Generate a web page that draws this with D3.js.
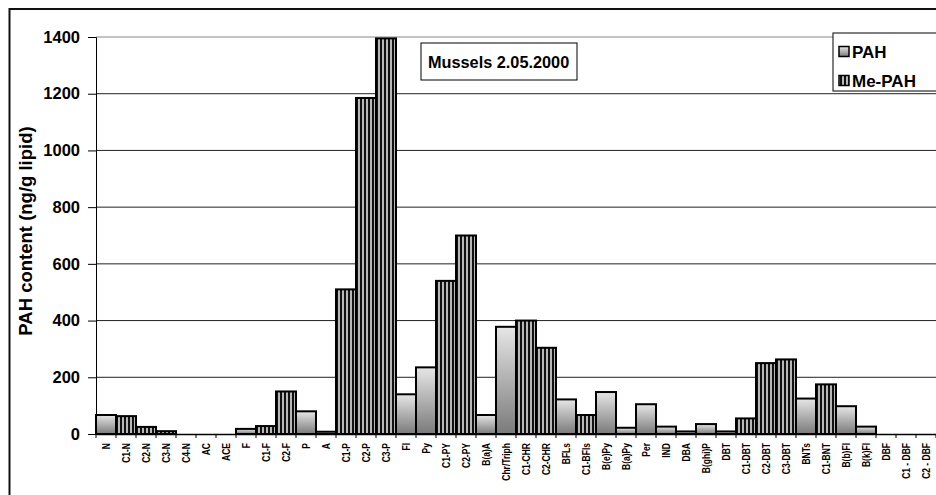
<!DOCTYPE html>
<html><head><meta charset="utf-8">
<script src="https://cdn.jsdelivr.net/npm/d3@7"></script>
<style>body{margin:0;background:#fff}svg{display:block;font-family:Arial,"Liberation Sans",sans-serif}</style>
</head><body><svg id="c" width="936" height="495"></svg>
<script>
const categories = ["N","C1-N","C2-N","C3-N","C4-N","AC","ACE","F","C1-F","C2-F","P","A","C1-P","C2-P","C3-P","Fl","Py","C1-PY","C2-PY","B(a)A","Chr/Triph","C1-CHR","C2-CHR","BFLs","C1-BFls","B(e)Py","B(a)Py","Per","IND","DBA","B(ghi)P","DBT","C1-DBT","C2-DBT","C3-DBT","BNTs","C1-BNT","B(b)Fl","B(k)Fl","DBF","C1 - DBF","C2 - DBF"];
const values = [67,63,25,10,0,0,0,18,28,150,80,8,510,1185,1395,140,235,540,700,67,378,400,304,122,67,148,22,105,26,9,35,9,55,250,263,125,175,98,26,0,0,0];
const series = ["PAH","Me-PAH","Me-PAH","Me-PAH","Me-PAH","PAH","PAH","PAH","Me-PAH","Me-PAH","PAH","PAH","Me-PAH","Me-PAH","Me-PAH","PAH","PAH","Me-PAH","Me-PAH","PAH","PAH","Me-PAH","Me-PAH","PAH","Me-PAH","PAH","PAH","PAH","PAH","PAH","PAH","PAH","Me-PAH","Me-PAH","Me-PAH","PAH","Me-PAH","PAH","PAH","PAH","Me-PAH","Me-PAH"];
const seriesNames = ["PAH","Me-PAH"];
const yTicks = [0,200,400,600,800,1000,1200,1400];
const title = "Mussels 2.05.2000";
const yTitle = "PAH content (ng/g lipid)";

const FONT = "Arial, Liberation Sans, sans-serif";
const svg = d3.select("#c");
const defs = svg.append("defs");
const g1 = defs.append("linearGradient").attr("id","gPAH").attr("x1",0).attr("y1",0).attr("x2",0).attr("y2",1);
g1.append("stop").attr("offset","0%").attr("stop-color","#e6e6e6");
g1.append("stop").attr("offset","100%").attr("stop-color","#7a7a7a");
const pat = defs.append("pattern").attr("id","pMe").attr("patternUnits","userSpaceOnUse").attr("width",4).attr("height",4);
pat.append("rect").attr("width",4).attr("height",4).attr("fill","#b8b8b8");
pat.append("rect").attr("width",2).attr("height",4).attr("fill","#111");
const fillOf = s => s === "PAH" ? "url(#gPAH)" : "url(#pMe)";

const L = 96, R = 936, T = 37, B = 434;
const x = d3.scaleBand().domain(categories).range([L, R]).padding(0);
const y = d3.scaleLinear().domain([0,1400]).range([B, T]);

// outer border
svg.append("rect").attr("x",9.5).attr("y",9).attr("width",960).attr("height",520).attr("fill","#fff").attr("stroke","#111").attr("stroke-width",2);

// gridlines
svg.append("g").selectAll("line").data(yTicks.filter(d=>d>0)).join("line")
  .attr("x1",L).attr("x2",R).attr("y1",d=>y(d)).attr("y2",d=>y(d))
  .attr("stroke",d=>d===1400?"#888":"#222").attr("stroke-width",1);

// y axis
const ya = svg.append("g").attr("transform",`translate(${L},0)`)
  .call(d3.axisLeft(y).tickValues(yTicks).tickSize(8).tickPadding(8).tickFormat(d3.format("d")));
ya.select(".domain").attr("stroke","#000");
ya.selectAll(".tick line").attr("stroke","#000");
ya.selectAll("text").attr("font-size",16.5).attr("font-weight","bold").attr("fill","#000").attr("font-family",FONT);

// bars
svg.append("g").selectAll("rect").data(categories).join("rect")
  .attr("x",d=>x(d)).attr("width",x.bandwidth())
  .attr("y",(d,i)=>y(values[i])).attr("height",(d,i)=>B - y(values[i]))
  .attr("fill",(d,i)=>fillOf(series[i])).attr("stroke","#000").attr("stroke-width",2);

// x axis
const xa = svg.append("g").attr("transform",`translate(0,${B})`)
  .call(d3.axisBottom(x).tickSize(0).tickPadding(0));
xa.select(".domain").attr("stroke","#000").attr("stroke-width",1.5);
xa.selectAll(".tick text").attr("font-size",10).attr("font-weight","bold").attr("fill","#000")
  .attr("font-family",FONT)
  .attr("transform","translate(4,9) rotate(-90) scale(0.85,1)").attr("text-anchor","end").attr("dy","0");
// boundary ticks
svg.append("g").selectAll("line").data(d3.range(categories.length+1)).join("line")
  .attr("x1",i=>L+i*x.step()).attr("x2",i=>L+i*x.step()).attr("y1",B).attr("y2",B+4)
  .attr("stroke","#000").attr("stroke-width",1);

// y title
svg.append("text").attr("transform","translate(32,231) rotate(-90)").attr("text-anchor","middle")
  .attr("font-size",18.5).attr("font-weight","bold").attr("font-family",FONT).text(yTitle);

// title box
svg.append("rect").attr("x",421).attr("y",43).attr("width",156).attr("height",37).attr("fill","#fff").attr("stroke","#000").attr("stroke-width",1);
svg.append("text").attr("x",428).attr("y",68.3).attr("font-size",16.3).attr("font-weight","bold").attr("font-family",FONT).text(title);

// legend
const lg = svg.append("g");
lg.append("rect").attr("x",833).attr("y",33).attr("width",110).attr("height",58).attr("fill","#fff").attr("stroke","#000").attr("stroke-width",1);
seriesNames.forEach((s,i)=>{
  const yy = 51.5 + i*29;
  lg.append("rect").attr("x",839).attr("y",yy-5).attr("width",10).attr("height",10).attr("fill",fillOf(s)).attr("stroke","#000").attr("stroke-width",1.5);
  lg.append("text").attr("x",852).attr("y",yy+6).attr("font-size",17).attr("font-weight","bold").attr("font-family",FONT).text(s);
});
</script></body></html>
